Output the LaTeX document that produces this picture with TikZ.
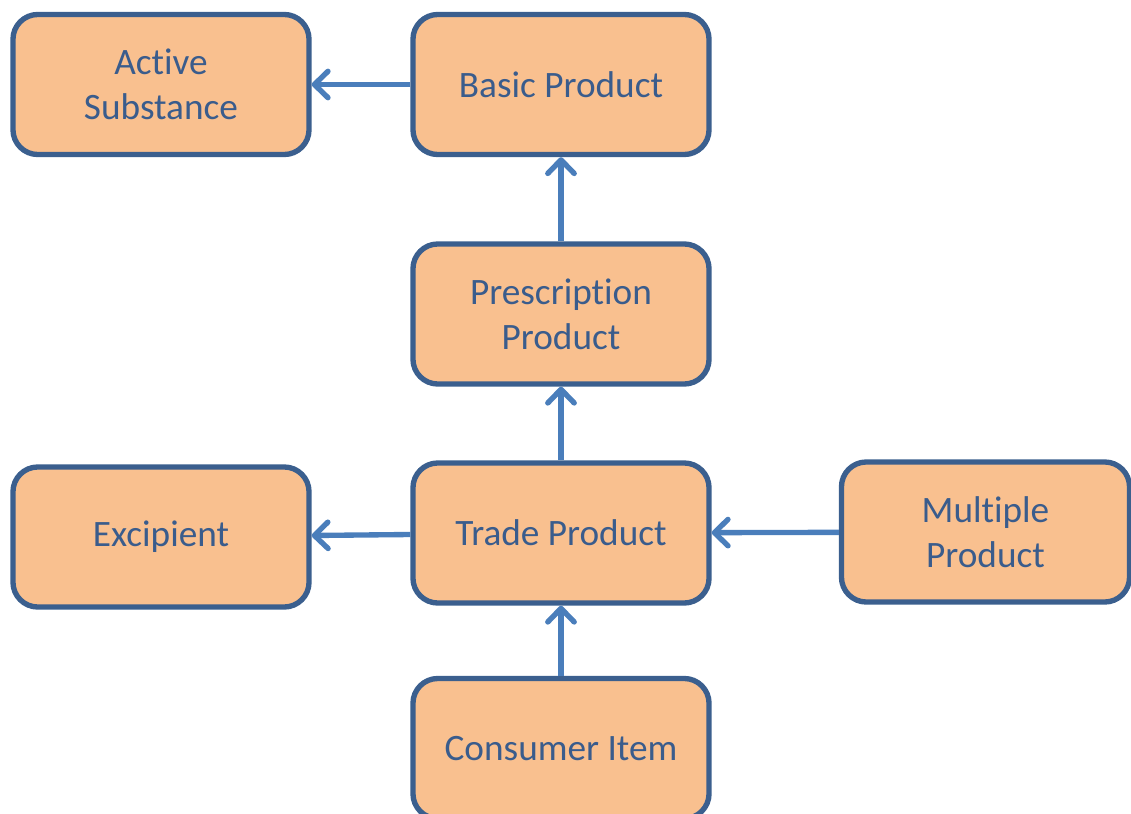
\documentclass[tikz,border=0pt]{standalone}
\usepackage{fontspec}
\setmainfont{Carlito}[RawFeature={-liga}]
\usetikzlibrary{arrows.meta}
\definecolor{boxfill}{HTML}{F9C08F}
\definecolor{boxline}{HTML}{3B5F8E}
\definecolor{boxtext}{HTML}{3A5C8C}
\definecolor{arrowline}{HTML}{4A7EBB}
\tikzset{
  item/.style={draw=boxline, fill=boxfill, line width=3.8pt, rounded corners=0.62cm,
    minimum width=7.4cm, minimum height=3.5cm, align=center, text=boxtext,
    font=\fontsize{26.5}{32}\selectfont},
  link/.style={draw=arrowline, line width=3.8pt,
    -{Straight Barb[length=3.4mm,width=6.6mm,round]}}
}
\begin{document}
\begin{tikzpicture}[x=0.025cm, y=-0.025cm]
    \useasboundingbox (0, 0) rectangle (1131, 814);
    \node [item] (active) at (161, 84.5) {Active\\Substance};
    \node [item] (basic) at (561, 84.5) {Basic Product};
    \node [item] (prescription) at (561, 314) {Prescription\\Product};
    \node [item] (excipient) at (161, 537) {Excipient};
    \node [item] (trade) at (561, 533) {Trade Product};
    \node [item, minimum width=7.2cm] (multiple) at (985.5, 532) {Multiple\\Product};
    \node [item] (consumer) at (561, 748.5) {Consumer Item};

    \draw [link] (basic) -- (active);
    \draw [link] (prescription) -- (basic);
    \draw [link] (trade) -- (prescription);
    \draw [link] (trade) -- (excipient);
    \draw [link] (multiple) -- (trade);
    \draw [link] (consumer) -- (trade);
\end{tikzpicture}
\end{document}
